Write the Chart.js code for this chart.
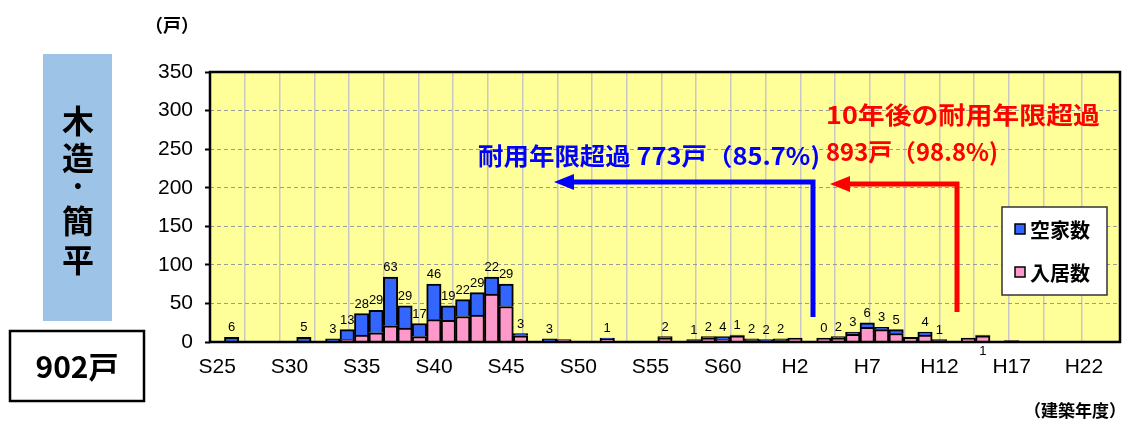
<!DOCTYPE html>
<html lang="ja">
<head>
<meta charset="UTF-8">
<title>木造・簡平 建築年度別戸数</title>
<script src="https://cdn.jsdelivr.net/npm/chart.js"></script>
<style>
  html, body { margin: 0; padding: 0; background: #fff; }
  #wrap { width: 1128px; height: 426px; }
</style>
</head>
<body>
<div id="wrap"><canvas id="chart" width="1128" height="426"></canvas></div>
<script>
// 建築年度 (S25 .. H24)
const years = [
  'S25','S26','S27','S28','S29','S30','S31','S32','S33','S34',
  'S35','S36','S37','S38','S39','S40','S41','S42','S43','S44',
  'S45','S46','S47','S48','S49','S50','S51','S52','S53','S54',
  'S55','S56','S57','S58','S59','S60','S61','S62','S63','H1',
  'H2','H3','H4','H5','H6','H7','H8','H9','H10','H11',
  'H12','H13','H14','H15','H16','H17','H18','H19','H20','H21',
  'H22','H23','H24'
];
// 空家数 (label above each bar)
const vacant = [
  null, 6, null, null, null, null, 5, null, 3, 13,
  28, 29, 63, 29, 17, 46, 19, 22, 29, 22,
  29, 3, null, 3, null, null, null, 1, null, null,
  null, 2, null, 1, 2, 4, 1, 2, 2, 2,
  null, null, 0, 2, 3, 6, 3, 5, null, 4,
  1, null, null, 1, null, null, null, null, null, null,
  null, null, null
];
// 入居数
const resident = [
  null, null, 1, null, null, 1, 1, 1, 1, 3,
  9, 12, 21, 18, 7, 29, 28, 33, 35, 62,
  46, 8, null, 1, 3, null, null, 4, null, null,
  1, 5, 1, 2, 5, 3, 8, 2, 1, 2,
  5, 1, 5, 5, 10, 19, 16, 11, 6, 9,
  2, 1, 5, 8, null, 2, null, null, null, null,
  null, null, null
];
// labels drawn under the axis instead of above the bar
const labelsBelow = [53];
const yTicks = [0, 50, 100, 150, 200, 250, 300, 350];

const NUM = '"Liberation Sans", Arial, sans-serif';
const JP = '"Noto Sans CJK JP", "Noto Sans", sans-serif';
const BLUE_BAR = '#3366FF';
const PINK_BAR = '#FF99CC';

function fitText(ctx, text, x, y, w, font, color) {
  ctx.save();
  ctx.font = font;
  ctx.fillStyle = color;
  ctx.textBaseline = 'middle';
  ctx.textAlign = 'left';
  const m = ctx.measureText(text).width;
  ctx.translate(x, y);
  ctx.scale(w / m, 1);
  ctx.fillText(text, 0, 0);
  ctx.restore();
}

function arrow(ctx, pts, color) {
  ctx.save();
  ctx.strokeStyle = color;
  ctx.fillStyle = color;
  ctx.lineWidth = 5;
  ctx.beginPath();
  ctx.moveTo(pts[0][0], pts[0][1]);
  for (let i = 1; i < pts.length; i++) ctx.lineTo(pts[i][0], pts[i][1]);
  ctx.stroke();
  // head pointing left at last point
  const [tx, ty] = pts[pts.length - 1];
  ctx.beginPath();
  ctx.moveTo(tx - 18, ty);
  ctx.lineTo(tx + 2, ty - 8);
  ctx.lineTo(tx + 2, ty + 8);
  ctx.closePath();
  ctx.fill();
  ctx.restore();
}

const deco = {
  id: 'deco',
  beforeDraw(chart) {
    const { ctx, chartArea: a } = chart;
    ctx.save();
    ctx.fillStyle = '#FFFF99';
    ctx.fillRect(a.left, a.top, a.right - a.left, a.bottom - a.top);
    ctx.restore();
  },
  afterDatasetsDraw(chart) {
    const { ctx, chartArea: a } = chart;
    const xs = chart.scales.x, ys = chart.scales.y;
    // value labels
    ctx.save();
    ctx.fillStyle = '#000';
    ctx.textAlign = 'center';
    ctx.font = '13px ' + NUM;
    vacant.forEach((v, i) => {
      if (v === null) return;
      const x = xs.getPixelForValue(i);
      if (labelsBelow.includes(i)) {
        ctx.textBaseline = 'top';
        ctx.fillText(String(v), x, a.bottom + 3);
        return;
      }
      const total = (v || 0) + (resident[i] || 0);
      ctx.textBaseline = 'bottom';
      ctx.fillText(String(v), x, ys.getPixelForValue(total) - 3);
    });
    ctx.restore();
    // frame
    ctx.save();
    ctx.strokeStyle = '#000';
    ctx.lineWidth = 2.5;
    ctx.strokeRect(a.left, a.top, a.right - a.left, a.bottom - a.top);
    ctx.restore();
  },
  afterDraw(chart) {
    const { ctx } = chart;
    // arrows
    arrow(ctx, [[813, 317], [813, 182], [572, 182]], '#0000FF');
    arrow(ctx, [[957, 312], [957, 184], [848, 184]], '#FF0000');
    // annotations
    fitText(ctx, '耐用年限超過 773戸（85.7%)', 478, 156, 342, 'bold 24px ' + JP, '#0000FF');
    fitText(ctx, '10年後の耐用年限超過', 826, 115, 274, 'bold 24px ' + JP, '#FF0000');
    fitText(ctx, '893戸（98.8%)', 826, 152, 172, 'bold 24px ' + JP, '#FF0000');

    // legend
    ctx.save();
    ctx.fillStyle = '#fff';
    ctx.fillRect(1002, 207, 105, 88);
    ctx.strokeStyle = '#333';
    ctx.lineWidth = 1.5;
    ctx.strokeRect(1002, 207, 105, 88);
    [[BLUE_BAR, '空家数', 229], [PINK_BAR, '入居数', 272]].forEach(([c, t, y]) => {
      ctx.fillStyle = c;
      ctx.fillRect(1015, y - 5, 10, 10);
      ctx.strokeStyle = '#000';
      ctx.lineWidth = 1.5;
      ctx.strokeRect(1015, y - 5, 10, 10);
      ctx.fillStyle = '#000';
      ctx.font = 'bold 20px ' + JP;
      ctx.textAlign = 'left';
      ctx.textBaseline = 'middle';
      ctx.fillText(t, 1030, y + 1);
    });
    ctx.restore();

    // left panel
    ctx.save();
    ctx.fillStyle = '#9DC3E6';
    ctx.fillRect(43, 54, 69, 267);
    ctx.fillStyle = '#000';
    ctx.textAlign = 'center';
    ctx.textBaseline = 'middle';
    ctx.font = 'bold 32px ' + JP;
    [['木', 121], ['造', 158], ['·', 186], ['簡', 221], ['平', 260]].forEach(([c, y]) => {
      ctx.fillText(c, 78, y);
    });
    ctx.lineWidth = 2.5;
    ctx.strokeStyle = '#000';
    ctx.strokeRect(10, 331, 134, 70);
    ctx.font = 'bold 30px ' + JP;
    ctx.fillText('902戸', 77, 367);
    // unit labels
    ctx.font = 'bold 18px ' + JP;
    ctx.fillText('（戸）', 172, 25);
    ctx.textAlign = 'right';
    ctx.font = 'bold 17px ' + JP;
    ctx.fillText('（建築年度）', 1126, 411);
    ctx.restore();
  }
};

new Chart(document.getElementById('chart'), {
  type: 'bar',
  data: {
    labels: years,
    datasets: [
      {
        label: '入居数',
        data: resident,
        backgroundColor: PINK_BAR,
        borderColor: '#000',
        borderWidth: 2,
        barPercentage: 1,
        categoryPercentage: 1
      },
      {
        label: '空家数',
        data: vacant.map(v => v || null),
        backgroundColor: BLUE_BAR,
        borderColor: '#000',
        borderWidth: 2,
        barPercentage: 1,
        categoryPercentage: 1
      }
    ]
  },
  options: {
    responsive: false,
    animation: false,
    layout: { padding: { left: 0, right: 8, top: 72, bottom: 0 } },
    plugins: { legend: { display: false }, tooltip: { enabled: false } },
    scales: {
      x: {
        stacked: true,
        grid: { display: false, drawTicks: false },
        border: { display: false },
        ticks: {
          autoSkip: false,
          maxRotation: 0,
          padding: 13,
          color: '#000',
          font: { family: NUM, size: 21 },
          callback(v, i) { return i % 5 === 0 ? this.getLabelForValue(v) : ''; }
        },
        afterFit(s) { s.height = 84; }
      },
      xg: {
        type: 'linear',
        position: 'bottom',
        min: 0,
        max: years.length,
        ticks: { display: false, stepSize: 2.5 },
        grid: { color: '#c8c8c8', lineWidth: 1.5, drawTicks: false },
        border: { display: false },
        afterFit(s) { s.height = 0; }
      },
      y: {
        stacked: true,
        min: yTicks[0],
        max: yTicks[yTicks.length - 1],
        afterBuildTicks(s) { s.ticks = yTicks.map(v => ({ value: v })); },
        ticks: { padding: 12, color: '#000', font: { family: NUM, size: 21 } },
        grid: { color: '#9a9a9a', lineWidth: 1, tickLength: 5, tickColor: '#000', tickWidth: 2 },
        border: { display: false, dash: [4, 3] },
        afterFit(s) { s.width = 210; }
      }
    }
  },
  plugins: [deco]
});
</script>
</body>
</html>
